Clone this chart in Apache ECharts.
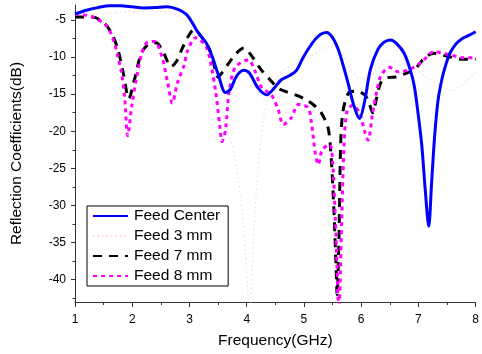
<!DOCTYPE html>
<html><head><meta charset="utf-8">
<script src="https://cdn.jsdelivr.net/npm/echarts@6/dist/echarts.min.js"></script>
<style>html,body{margin:0;padding:0;background:#fff}#c{width:482px;height:354px}</style>
</head><body><div id="c"></div>
<script>
// Feed Center
const freqCenter = [1.0,1.2,1.4,1.6,1.8,2.0,2.2,2.4,2.6,2.8,2.95,3.05,3.15,3.29,3.4,3.5,3.63,3.72,3.82,3.95,4.05,4.2,4.35,4.48,4.6,4.75,4.87,4.97,5.07,5.2,5.3,5.4,5.5,5.6,5.68,5.77,5.87,5.97,6.06,6.16,6.29,6.4,6.51,6.62,6.75,6.86,6.93,7.0,7.06,7.12,7.18,7.23,7.28,7.34,7.41,7.48,7.55,7.65,7.75,7.88,8.0];
const dbCenter   = [-4.2,-3.7,-3.35,-3.1,-3.1,-3.25,-3.4,-3.35,-3.25,-3.6,-4.3,-5.4,-6.7,-8.1,-10,-12.3,-14.8,-14.3,-12.6,-11.8,-12.2,-14.2,-15.1,-14.2,-13.1,-12.5,-11.8,-10.3,-9,-7.6,-6.9,-6.7,-7.4,-9,-11,-13.5,-16.5,-18.3,-16,-11.7,-9,-8,-7.7,-8.2,-9.5,-11.8,-14,-18,-22,-28,-32.8,-27,-21,-16,-13,-11,-9.5,-8.3,-7.6,-7.1,-6.6];
// Feed 3 mm
const freq3 = [1.0,1.5,2.0,2.5,2.8,3.0,3.2,3.4,3.6,3.8,3.95,4.05,4.15,4.3,4.5,4.7,5.0,5.3,5.5,5.7,5.9,6.1,6.3,6.5,6.8,7.1,7.4,7.6,7.8,8.0];
const db3   = [-4.5,-4.2,-3.9,-3.9,-4.5,-5.8,-8.5,-12.5,-18,-24,-33,-44,-30,-18,-13,-11.5,-10.5,-9,-8.5,-10,-12.5,-13,-11.5,-10.5,-11,-12.5,-14,-14.5,-13.5,-12];
// Feed 7 mm
const freq7 = [1.0,1.3,1.52,1.65,1.75,1.85,1.94,2.04,2.16,2.3,2.42,2.55,2.68,2.78,2.87,2.98,3.08,3.2,3.34,3.42,3.5,3.58,3.69,3.82,3.95,4.1,4.24,4.4,4.55,4.7,4.85,5.0,5.16,5.3,5.42,5.47,5.52,5.56,5.58,5.61,5.64,5.67,5.72,5.8,5.92,6.06,6.13,6.2,6.27,6.34,6.45,6.6,6.75,6.93,7.1,7.27,7.5,7.76,8.0];
const db7   = [-4.6,-4.6,-5.5,-7,-9,-12.4,-15.6,-13,-9.5,-8.2,-8.1,-9.5,-11.3,-10.5,-8.9,-7.2,-6.3,-7.2,-8.8,-10.8,-12.7,-12,-10.8,-9.5,-8.8,-10,-11.6,-13,-14.2,-14.7,-15.1,-15.6,-16.4,-17.5,-19.5,-22.9,-30,-38,-42,-35,-22,-18,-16,-14.7,-14.6,-15.1,-16,-17.5,-15.5,-13.5,-12.8,-12.7,-12.3,-11.7,-10.2,-9.5,-9.9,-10.3,-10.3];
// Feed 8 mm
const freq8 = [1.0,1.3,1.55,1.68,1.75,1.81,1.87,1.92,1.99,2.07,2.16,2.25,2.39,2.52,2.62,2.7,2.79,2.91,2.96,3.11,3.29,3.37,3.46,3.53,3.57,3.63,3.69,3.8,4.03,4.15,4.26,4.43,4.55,4.64,4.78,4.9,5.07,5.13,5.2,5.25,5.32,5.45,5.5,5.55,5.61,5.66,5.7,5.75,5.85,5.97,6.06,6.12,6.2,6.27,6.34,6.49,6.65,6.84,7.07,7.27,7.55,7.79,8.0];
const db8   = [-4.2,-4.6,-5.8,-7.9,-10,-12,-15.7,-20.6,-16.7,-13,-9.7,-8.1,-7.9,-10,-13.5,-16.2,-13.5,-11,-9.3,-7.4,-8.6,-10.8,-14.8,-19.3,-21.4,-19.8,-14.8,-11.4,-10.4,-12,-14.1,-15.1,-17.1,-19.1,-18.2,-16.4,-16.8,-18.8,-23.1,-24.5,-22.5,-21.8,-24,-32,-44,-32,-22,-17.4,-16.5,-17.5,-20,-21.2,-17.5,-14.7,-12.6,-11.4,-12,-11.7,-10.6,-9.3,-9.7,-10.1,-10.1];

const yMajor = [-40,-35,-30,-25,-20,-15,-10,-5];
const yMinor = [-42.5,-37.5,-32.5,-27.5,-22.5,-17.5,-12.5,-7.5];

const zip = (xs, ys) => xs.map((x, i) => [x, ys[i]]);
const font = 'Liberation Sans, Arial, sans-serif';

const chart = echarts.init(document.getElementById('c'));
chart.setOption({
  animation: false,
  backgroundColor: '#fff',
  grid: {left: 75, right: 3, top: 5, bottom: 51},
  legend: {
    orient: 'vertical', left: 87, top: 206,
    padding: [2, 8, 2, 5], itemGap: 4, itemWidth: 35, itemHeight: 14,
    borderColor: '#000', borderWidth: 1, backgroundColor: '#fff',
    itemStyle: {opacity: 0},
    textStyle: {fontFamily: font, fontSize: 15.5, color: '#000', padding: [0,0,0,1]},
    data: ['Feed Center', 'Feed 3 mm', 'Feed 7 mm', 'Feed 8 mm']
  },
  xAxis: {
    type: 'value', min: 1, max: 8, interval: 1,
    name: 'Frequency(GHz)', nameLocation: 'middle', nameGap: 31,
    nameTextStyle: {fontFamily: font, fontSize: 15.5, color: '#000'},
    axisLine: {lineStyle: {color: '#333', width: 1}},
    axisTick: {length: 5, lineStyle: {color: '#333'}},
    minorTick: {show: true, splitNumber: 2, length: 3, lineStyle: {color: '#333'}},
    axisLabel: {margin: 12, fontFamily: font, fontSize: 12, color: '#000'},
    splitLine: {show: false}
  },
  yAxis: [{
    type: 'value', min: -43, max: -3,
    name: 'Reflection Coefficients(dB)', nameLocation: 'middle', nameGap: 50, nameRotate: 90,
    nameTextStyle: {fontFamily: font, fontSize: 15.5, color: '#000'},
    axisLine: {show: true, lineStyle: {color: '#333', width: 1}},
    axisTick: {show: true, length: 4, customValues: yMajor, lineStyle: {color: '#333'}},
    axisLabel: {customValues: yMajor, margin: 9, fontFamily: font, fontSize: 12, color: '#000'},
    splitLine: {show: false}
  }, {
    type: 'value', min: -43, max: -3, position: 'left',
    axisLine: {show: false},
    axisTick: {show: true, length: 2.5, customValues: yMinor, lineStyle: {color: '#333'}},
    axisLabel: {show: false},
    splitLine: {show: false}
  }],
  series: [
    {name: 'Feed Center', type: 'line', data: zip(freqCenter, dbCenter), smooth: 0.3, symbol: 'none',
     lineStyle: {color: '#0000ff', width: 3}, itemStyle: {color: '#0000ff'}, z: 4},
    {name: 'Feed 3 mm', type: 'line', data: zip(freq3, db3), smooth: 0.3, symbol: 'none',
     lineStyle: {color: '#ffdada', width: 1.3, type: [1.5, 3]}, itemStyle: {color: '#ffdada'}, z: 1},
    {name: 'Feed 7 mm', type: 'line', data: zip(freq7, db7), smooth: 0.3, symbol: 'none',
     lineStyle: {color: '#000000', width: 3, type: [9, 7]}, itemStyle: {color: '#000'}, z: 2},
    {name: 'Feed 8 mm', type: 'line', data: zip(freq8, db8), smooth: 0.3, symbol: 'none',
     lineStyle: {color: '#ff00ff', width: 3, type: [4, 4]}, itemStyle: {color: '#ff00ff'}, z: 3}
  ]
});
</script></body></html>
